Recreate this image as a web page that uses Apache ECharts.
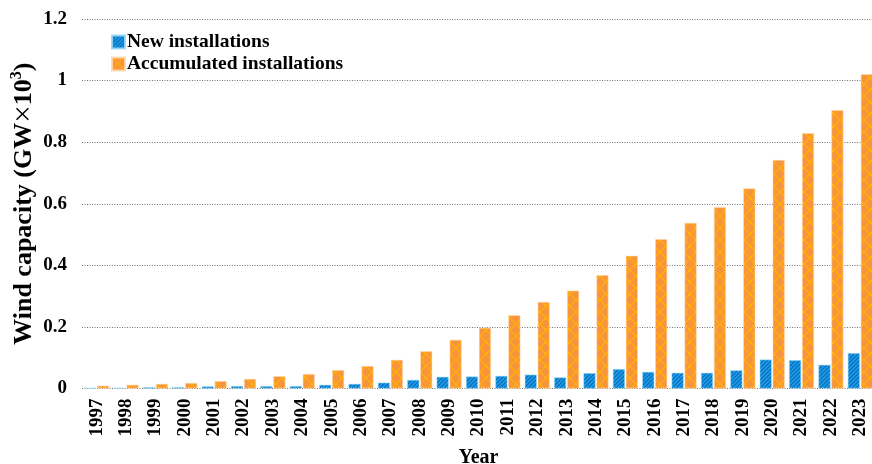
<!DOCTYPE html>
<html>
<head>
<meta charset="utf-8">
<script src="https://cdn.jsdelivr.net/npm/echarts@6/dist/echarts.min.js"></script>
<style>
  html, body { margin: 0; padding: 0; background: #fff; }
  #chart { width: 872px; height: 464px; }
</style>
</head>
<body>
<div id="chart"></div>
<script>
// Yearly wind capacity, in thousands of GW
const years = ['1997','1998','1999','2000','2001','2002','2003','2004','2005','2006',
  '2007','2008','2009','2010','2011','2012','2013','2014','2015','2016',
  '2017','2018','2019','2020','2021','2022','2023'];
const newInstallations = [0.002,0.002,0.004,0.004,0.007,0.008,0.008,0.008,0.012,0.015,
  0.019,0.028,0.038,0.039,0.041,0.045,0.036,0.050,0.063,0.054,
  0.051,0.051,0.059,0.094,0.092,0.077,0.115];
const accumulatedInstallations = [0.009,0.012,0.015,0.018,0.024,0.031,0.040,0.047,0.060,0.073,
  0.093,0.121,0.158,0.197,0.238,0.281,0.318,0.368,0.431,0.485,
  0.538,0.589,0.650,0.742,0.829,0.904,1.021];
const yTicks = { min: 0, max: 1.2, step: 0.2 };

const serif = '"Liberation Serif", "Times New Roman", "DejaVu Serif", serif';

// Diagonal stripe fill for the yearly additions
function stripePattern() {
  const c = document.createElement('canvas');
  c.width = 4; c.height = 4;
  const g = c.getContext('2d');
  g.fillStyle = '#1ea3e6';
  g.fillRect(0, 0, 4, 4);
  g.strokeStyle = '#0a6cc2';
  g.lineWidth = 1.4;
  g.beginPath();
  g.moveTo(-1, 5); g.lineTo(5, -1);
  g.moveTo(-1, 1); g.lineTo(1, -1);
  g.moveTo(3, 5); g.lineTo(5, 3);
  g.stroke();
  return c;
}

// Cross-hatch fill for the cumulative totals
function crossPattern() {
  const c = document.createElement('canvas');
  c.width = 12; c.height = 12;
  const g = c.getContext('2d');
  g.fillStyle = '#f8953c';
  g.fillRect(0, 0, 12, 12);
  g.strokeStyle = '#ffb400';
  g.lineWidth = 1.2;
  g.beginPath();
  g.moveTo(0, 0); g.lineTo(12, 12);
  g.moveTo(12, 0); g.lineTo(0, 12);
  g.stroke();
  return c;
}

const chart = echarts.init(document.getElementById('chart'), null, { renderer: 'canvas' });

chart.setOption({
  animation: false,
  backgroundColor: '#fff',
  grid: { left: 82, top: 19, width: 793, height: 369.5, containLabel: false, outerBoundsMode: 'none' },
  legend: {
    orient: 'vertical',
    left: 106,
    top: 27,
    itemWidth: 13,
    itemHeight: 13,
    itemGap: 2,
    icon: 'rect',
    textStyle: { fontFamily: serif, fontWeight: 'bold', fontSize: 19.5, color: '#000', padding: [0, 0, 0, -3] },
    data: ['New installations', 'Accumulated installations']
  },
  xAxis: {
    type: 'category',
    data: years,
    name: 'Year',
    nameLocation: 'middle',
    nameGap: 59,
    nameMoveOverlap: false,
    nameTextStyle: { fontFamily: serif, fontWeight: 'bold', fontSize: 20, color: '#000' },
    axisLine: { show: false },
    axisTick: { show: false },
    axisLabel: {
      rotate: 90,
      margin: 10,
      interval: 0,
      fontFamily: serif, fontWeight: 'bold', fontSize: 19, color: '#000'
    }
  },
  yAxis: {
    type: 'value',
    min: yTicks.min,
    max: yTicks.max,
    interval: yTicks.step,
    name: '{t|Wind capacity (GW}{x|×}{t|10}{s|3}{t|)}',
    nameLocation: 'middle',
    nameGap: 42,
    nameMoveOverlap: false,
    nameTextStyle: {
      fontFamily: serif, fontWeight: 'bold', fontSize: 26, color: '#000',
      rich: {
        t: { fontFamily: serif, fontWeight: 'bold', fontSize: 26, color: '#000' },
        x: { fontFamily: serif, fontWeight: 'normal', fontSize: 31, color: '#000' },
        s: { fontFamily: serif, fontWeight: 'bold', fontSize: 16, color: '#000', verticalAlign: 'top', padding: [0, 0, 10, 0] }
      }
    },
    axisLine: { show: false },
    axisTick: { show: false },
    axisLabel: { margin: 15, fontFamily: serif, fontWeight: 'bold', fontSize: 19, color: '#000' },
    splitLine: { show: true, lineStyle: { color: '#707070', type: [1, 1.5], width: 1 } }
  },
  series: [
    {
      name: 'New installations',
      type: 'bar',
      data: newInstallations,
      barWidth: 12,
      barGap: '8%',
      itemStyle: {
        color: { image: stripePattern(), repeat: 'repeat' },
        borderColor: 'rgba(150,215,245,0.9)',
        borderWidth: 0.6
      }
    },
    {
      name: 'Accumulated installations',
      type: 'bar',
      data: accumulatedInstallations,
      barWidth: 12,
      itemStyle: {
        color: { image: crossPattern(), repeat: 'repeat' },
        borderColor: 'rgba(255,215,175,0.9)',
        borderWidth: 0.6
      }
    }
  ]
});
</script>
</body>
</html>
